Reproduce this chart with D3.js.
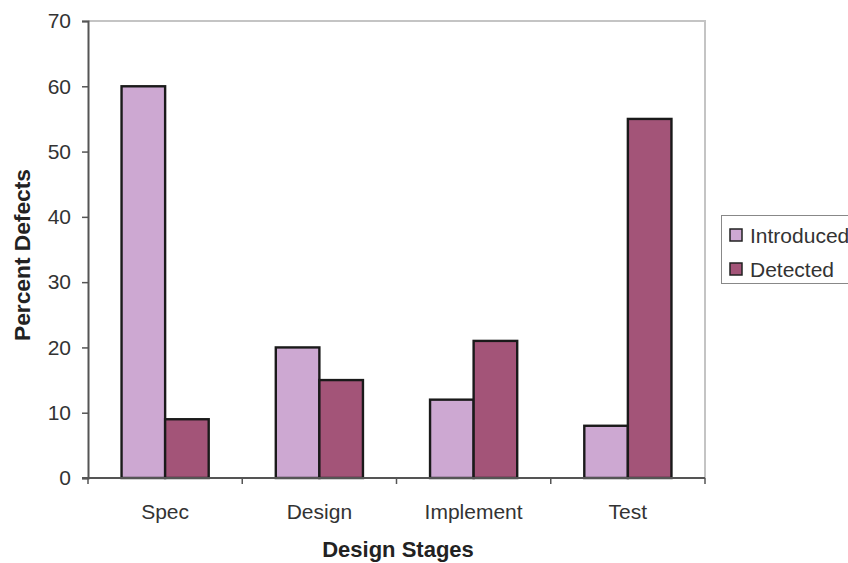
<!DOCTYPE html>
<html>
<head>
<meta charset="utf-8">
<script src="https://cdn.jsdelivr.net/npm/d3@7"></script>
<style>
  html, body { margin: 0; padding: 0; background: #fff; }
  svg { display: block; font-family: "Liberation Sans", Arial, sans-serif; }
</style>
</head>
<body>
<svg id="chart" width="848" height="563"></svg>
<script>
// Defect data by design stage
const categories = ["Spec", "Design", "Implement", "Test"];
const seriesNames = ["Introduced", "Detected"];
const introduced = [60, 20, 12, 8];
const detected = [9, 15, 21, 55];
const yTicks = [0, 10, 20, 30, 40, 50, 60, 70];
const colors = ["#cda8d2", "#a35478"];

const svg = d3.select("#chart");
const plotLeft = 88, plotRight = 705, plotTop = 21, plotBottom = 478;

const x0 = d3.scaleBand().domain(categories).range([plotLeft, plotRight]).padding(0);
const x1 = d3.scaleBand().domain(seriesNames)
  .range([0, x0.bandwidth()]).paddingInner(0).paddingOuter(0.77);
const y = d3.scaleLinear().domain([0, 70]).range([plotBottom, plotTop]);

// Plot frame (top and right edges)
svg.append("path")
  .attr("d", `M${plotLeft},${plotTop}H${plotRight}V${plotBottom}`)
  .attr("fill", "none").attr("stroke", "#c4c4c4").attr("stroke-width", 2);

// Bars
const rows = categories.map((c, i) => ({ cat: c, vals: [introduced[i], detected[i]] }));
const groups = svg.append("g").selectAll("g").data(rows).join("g")
  .attr("transform", d => `translate(${x0(d.cat)},0)`);
groups.selectAll("rect")
  .data(d => d.vals.map((v, j) => ({ key: seriesNames[j], v, j })))
  .join("rect")
  .attr("x", d => x1(d.key))
  .attr("y", d => y(d.v))
  .attr("width", x1.bandwidth())
  .attr("height", d => y(0) - y(d.v))
  .attr("fill", d => colors[d.j])
  .attr("stroke", "#1a1a1a").attr("stroke-width", 2.4);

// Y axis
const yAxis = svg.append("g").attr("transform", `translate(${plotLeft},0)`)
  .call(d3.axisLeft(y).tickValues(yTicks).tickSize(6).tickPadding(11));
yAxis.select(".domain").attr("stroke", "#555").attr("stroke-width", 2);
yAxis.selectAll(".tick line").attr("stroke", "#555").attr("stroke-width", 1.5);
yAxis.selectAll("text").attr("font-size", 21).attr("fill", "#333")
  .attr("font-family", "Liberation Sans, Arial, sans-serif");

// X axis with ticks at category boundaries
const xAxis = svg.append("g").attr("transform", `translate(0,${plotBottom})`);
xAxis.append("line").attr("x1", plotLeft - 6).attr("x2", plotRight)
  .attr("stroke", "#555").attr("stroke-width", 2);
const bounds = categories.map(c => x0(c)).concat([x0(categories[categories.length - 1]) + x0.bandwidth()]);
xAxis.selectAll("line.tk").data(bounds).join("line").attr("class", "tk")
  .attr("x1", d => d).attr("x2", d => d).attr("y1", 0).attr("y2", 6)
  .attr("stroke", "#555").attr("stroke-width", 1.5);
xAxis.selectAll("text").data(categories).join("text")
  .attr("x", d => x0(d) + x0.bandwidth() / 2)
  .attr("y", 41)
  .attr("text-anchor", "middle")
  .attr("font-size", 21).attr("fill", "#333")
  .text(d => d);

// Axis titles
svg.append("text")
  .attr("x", 398).attr("y", 557)
  .attr("text-anchor", "middle")
  .attr("font-size", 22).attr("font-weight", "bold").attr("fill", "#222")
  .text("Design Stages");
svg.append("text")
  .attr("transform", "translate(30,255) rotate(-90)")
  .attr("text-anchor", "middle")
  .attr("font-size", 22).attr("font-weight", "bold").attr("fill", "#222")
  .attr("textLength", 172).attr("lengthAdjust", "spacingAndGlyphs")
  .text("Percent Defects");

// Legend
const legend = svg.append("g");
legend.append("rect")
  .attr("x", 721.5).attr("y", 215.5).attr("width", 140).attr("height", 68)
  .attr("fill", "#fff").attr("stroke", "#888").attr("stroke-width", 1);
seriesNames.forEach((name, i) => {
  const cy = 235 + i * 34;
  legend.append("rect")
    .attr("x", 730).attr("y", cy - 6).attr("width", 12).attr("height", 12)
    .attr("fill", colors[i]).attr("stroke", "#222").attr("stroke-width", 1.5);
  legend.append("text")
    .attr("x", 750).attr("y", cy + 8)
    .attr("font-size", 21).attr("fill", "#333")
    .text(name);
});
</script>
</body>
</html>
